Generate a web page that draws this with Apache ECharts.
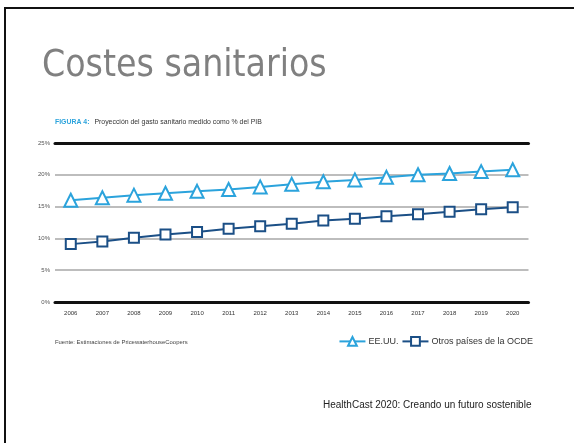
<!DOCTYPE html>
<html>
<head>
<meta charset="utf-8">
<script src="https://cdn.jsdelivr.net/npm/echarts@6/dist/echarts.min.js"></script>
<style>
  html, body { margin: 0; padding: 0; background: #fff; }
  #chart { width: 574px; height: 443px; }
</style>
</head>
<body>
<div id="chart"></div>
<script>
// Years on the horizontal axis
const years = ['2006','2007','2008','2009','2010','2011','2012','2013','2014','2015','2016','2017','2018','2019','2020'];
// Health spending as % of GDP
const usa  = [16.0, 16.4, 16.8, 17.1, 17.4, 17.7, 18.1, 18.5, 18.9, 19.2, 19.6, 20.0, 20.2, 20.5, 20.8];
const oecd = [9.1, 9.5, 10.1, 10.6, 11.0, 11.5, 11.9, 12.3, 12.8, 13.1, 13.5, 13.8, 14.2, 14.6, 14.9];
// Percent axis ticks
const yTicks = [0, 5, 10, 15, 20, 25];

const chart = echarts.init(document.getElementById('chart'), null, { renderer: 'canvas' });

const lightBlue = '#2ba3dc';
const darkBlue = '#1b4f86';

chart.setOption({
  animation: false,
  backgroundColor: '#fff',
  title: [
    {
      text: '{a|FIGURA 4:} {b|Proyección del gasto sanitario medido como % del PIB}',
      left: 55, top: 113, padding: 0,
      textStyle: {
        rich: {
          a: { fontFamily: 'Liberation Sans', fontSize: 6.9, fontWeight: 'bold', color: lightBlue },
          b: { fontFamily: 'Liberation Sans', fontSize: 6.9, fontWeight: 'normal', color: '#333' }
        }
      }
    },
    {
      text: 'Fuente: Estimaciones de PricewaterhouseCoopers',
      left: 55, top: 339, padding: 0,
      textStyle: { fontFamily: 'Liberation Sans', fontSize: 5.9, fontWeight: 'normal', color: '#444' }
    },
    {
      text: 'HealthCast 2020: Creando un futuro sostenible',
      left: 323, top: 400, padding: 0,
      textStyle: { fontFamily: 'Liberation Sans', fontSize: 10, fontWeight: 'normal', color: '#222' }
    }
  ],
  graphic: [
    {
      type: 'rect',
      shape: { x: 5, y: 8, width: 700, height: 600 },
      style: { fill: 'none', stroke: '#111', lineWidth: 2 },
      z: -1
    },
    {
      type: 'text',
      x: 42, y: 66,
      scaleX: 0.9,
      style: {
        text: 'Costes sanitarios',
        font: '37px "DejaVu Sans"',
        fill: '#808080',
        verticalAlign: 'middle',
        align: 'left'
      }
    }
  ],
  legend: {
    right: 36, top: 331,
    itemGap: 3,
    itemWidth: 26, itemHeight: 11,
    textStyle: { fontFamily: 'Liberation Sans', fontSize: 9, color: '#333', padding: [0, 0, 0, -2] },
    data: ['EE.UU.', 'Otros países de la OCDE']
  },
  grid: { left: 55, right: 45.5, top: 143, bottom: 141 },
  xAxis: [
    {
      type: 'category',
      data: years,
      boundaryGap: true,
      axisLine: { lineStyle: { color: '#111', width: 3 } },
      axisTick: { inside: true, alignWithLabel: true, length: 4, lineStyle: { color: '#111', width: 1 } },
      axisLabel: { fontFamily: 'Liberation Sans', fontSize: 6, color: '#333', margin: 8 }
    },
    {
      type: 'category',
      position: 'top',
      data: years,
      axisLine: { lineStyle: { color: '#111', width: 3 } },
      axisTick: { show: false },
      axisLabel: { show: false }
    }
  ],
  yAxis: {
    type: 'value',
    min: yTicks[0], max: yTicks[yTicks.length - 1], interval: 5,
    axisLine: { show: false },
    axisTick: { show: false },
    axisLabel: { fontFamily: 'Liberation Sans', fontSize: 6, color: '#555', margin: 5, formatter: v => v + '%' },
    splitLine: { lineStyle: { color: '#bdbdbd', width: 2 } }
  },
  series: [
    {
      name: 'EE.UU.',
      type: 'line',
      data: usa,
      symbol: 'triangle',
      symbolSize: 13,
      lineStyle: { color: lightBlue, width: 2 },
      itemStyle: { color: '#fff', borderColor: lightBlue, borderWidth: 2 },
      z: 3
    },
    {
      name: 'Otros países de la OCDE',
      type: 'line',
      data: oecd,
      symbol: 'rect',
      symbolSize: 10,
      lineStyle: { color: darkBlue, width: 2 },
      itemStyle: { color: '#fff', borderColor: darkBlue, borderWidth: 2 },
      z: 3
    }
  ]
});
</script>
</body>
</html>
